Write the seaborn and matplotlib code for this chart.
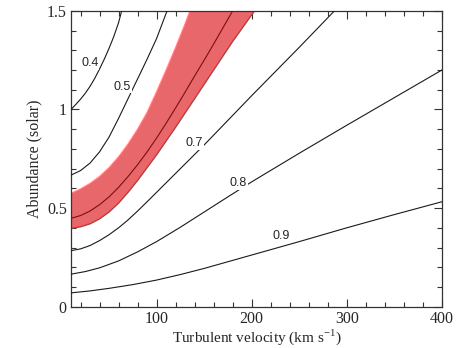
import numpy as np
import pandas as pd
import seaborn as sns
import matplotlib.pyplot as plt
from matplotlib.ticker import MultipleLocator

# Contour curves (velocity km/s, abundance)
c04_x = [10, 15, 20, 25, 30, 35, 40, 45, 50, 55, 60, 63]
c04_y = [1.0, 1.025, 1.052, 1.082, 1.117, 1.158, 1.205, 1.255, 1.31, 1.37, 1.44, 1.495]

c05_x = [10, 20, 30, 40, 50, 60, 70, 80, 90, 100, 111]
c05_y = [0.667, 0.69, 0.728, 0.785, 0.86, 0.955, 1.055, 1.155, 1.255, 1.36, 1.5]

c06_x = [10, 20, 30, 40, 50, 60, 70, 80, 90, 100, 110, 120, 130, 140, 150, 160, 170, 180]
c06_y = [0.448, 0.462, 0.485, 0.517, 0.557, 0.605, 0.66, 0.72, 0.785, 0.855, 0.93, 1.008,
         1.088, 1.17, 1.25, 1.332, 1.416, 1.5]

band_hi_x = [10, 20, 30, 40, 50, 60, 70, 80, 90, 100, 110, 120, 130, 135]
band_hi_y = [0.575, 0.597, 0.625, 0.66, 0.705, 0.76, 0.825, 0.9, 0.985, 1.09, 1.2, 1.315, 1.435, 1.5]
band_lo_x = [10, 20, 30, 40, 50, 60, 70, 80, 90, 100, 110, 120, 140, 160, 180, 203]
band_lo_y = [0.397, 0.405, 0.42, 0.445, 0.48, 0.525, 0.58, 0.64, 0.705, 0.77, 0.84, 0.91,
             1.055, 1.2, 1.345, 1.5]

c07_x = [10, 20, 30, 40, 50, 60, 70, 80, 90, 100, 125, 150, 175, 200, 250, 287]
c07_y = [0.284, 0.293, 0.31, 0.335, 0.365, 0.40, 0.44, 0.485, 0.532, 0.58, 0.70, 0.82,
         0.945, 1.07, 1.315, 1.5]

c08_x = [10, 25, 40, 60, 80, 100, 125, 150, 175, 200, 250, 300, 350, 400]
c08_y = [0.165, 0.178, 0.197, 0.232, 0.278, 0.33, 0.403, 0.48, 0.557, 0.633, 0.778, 0.92, 1.06, 1.2]

c09_x = [10, 30, 50, 75, 100, 125, 150, 200, 250, 300, 350, 400]
c09_y = [0.07, 0.08, 0.093, 0.112, 0.135, 0.163, 0.194, 0.262, 0.33, 0.4, 0.467, 0.532]

labels = ['0.4', '0.5', '0.7', '0.8', '0.9']
label_x = [30, 64, 140, 186, 231]
label_y = [1.235, 1.115, 0.828, 0.625, 0.358]

sns.set_style('ticks')
plt.rcParams['font.family'] = ['Liberation Serif', 'DejaVu Serif']
plt.rcParams['mathtext.fontset'] = 'custom'
plt.rcParams['mathtext.rm'] = 'Liberation Serif'

fig = plt.figure(figsize=(4.63, 3.48), dpi=100)
ax = fig.add_axes([0.1534, 0.1187, 0.8012, 0.8503])

# shaded band around the 0.6 contour
poly_x = band_hi_x + band_lo_x[::-1]
poly_y = band_hi_y + band_lo_y[::-1]
ax.fill(poly_x, poly_y, color='#e8676a', lw=0, zorder=1)
sns.lineplot(x=band_lo_x, y=band_lo_y, color='#e8282d', lw=1.0, ax=ax, zorder=2)
sns.lineplot(x=band_hi_x, y=band_hi_y, color='#f08a8f', lw=0.8, ax=ax, zorder=2)
sns.lineplot(x=c06_x, y=c06_y, color='#7a1010', lw=0.8, ax=ax, zorder=3)

for cx, cy in [(c04_x, c04_y), (c05_x, c05_y), (c07_x, c07_y), (c08_x, c08_y), (c09_x, c09_y)]:
    sns.lineplot(x=cx, y=cy, color='#1a1a1a', lw=0.8, ax=ax, zorder=3)

for t, lx, ly in zip(labels, label_x, label_y):
    ax.text(lx, ly, t, ha='center', va='center', fontsize=9, family=['Liberation Sans'],
            bbox=dict(facecolor='white', edgecolor='none', pad=0.5), zorder=4)

ax.set_xlim(10, 400)
ax.set_ylim(0, 1.5)
ax.xaxis.set_minor_locator(MultipleLocator(20))
ax.yaxis.set_minor_locator(MultipleLocator(0.1))
ax.set_xticks([100, 200, 300, 400])
ax.set_xticklabels(['100', '200', '300', '400'])
ax.set_yticks([0, 0.5, 1, 1.5])
ax.set_yticklabels(['0', '0.5', '1', '1.5'])
ax.tick_params(which='both', direction='in', top=True, right=True, labelsize=11.5,
               color='#333333', width=0.8)
ax.tick_params(which='major', length=6, pad=3)
ax.tick_params(which='minor', length=3.5)
for s in ax.spines.values():
    s.set_linewidth(0.9)
    s.set_color('#333333')

ax.set_xlabel('Turbulent velocity (km s$^{-1}$)', fontsize=11, labelpad=0)
ax.set_ylabel('Abundance (solar)', fontsize=11.5, labelpad=3)

plt.savefig('out.png', dpi=100)
